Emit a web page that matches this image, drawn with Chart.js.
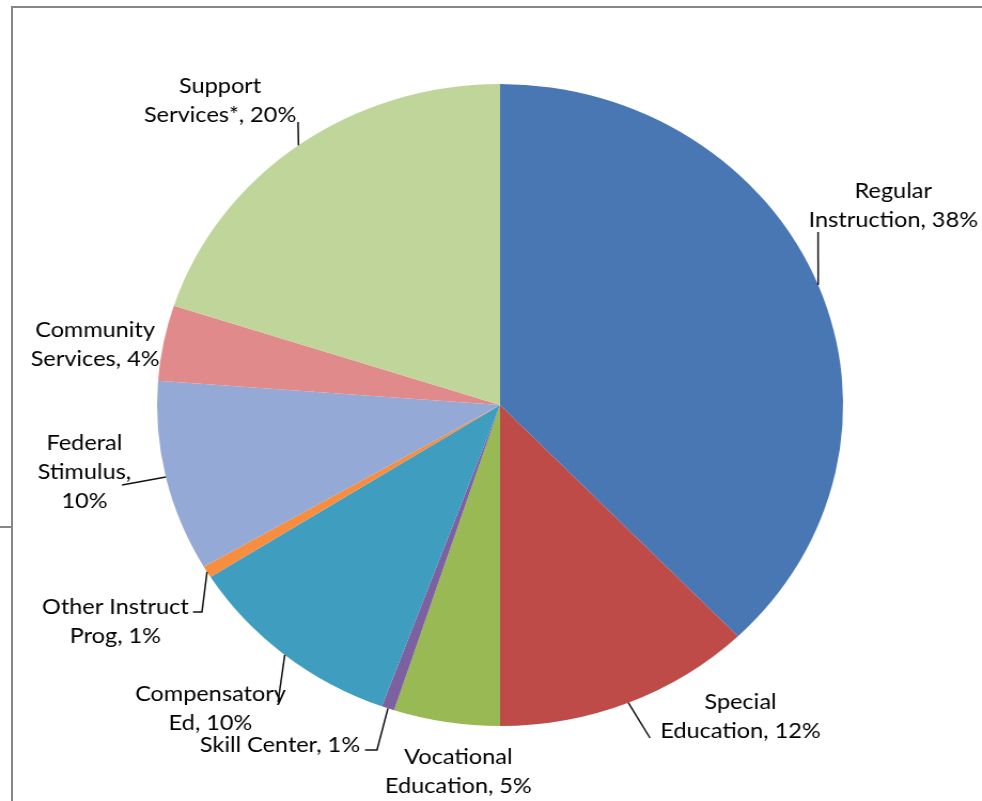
<!DOCTYPE html>
<html>
<head>
<meta charset="utf-8">
<script src="https://cdn.jsdelivr.net/npm/chart.js@4.4.1/dist/chart.umd.min.js"></script>
<style>
  body { margin: 0; background: #fff; }
  #page { position: relative; width: 982px; height: 801px; overflow: hidden; }
  #frame { position: absolute; left: 11px; top: 6px; width: 980px; height: 800px;
           border-top: 2px solid #868686; border-left: 2px solid #868686; }
  #tick { position: absolute; left: 0; top: 526px; width: 12px; height: 0;
          border-top: 2px solid #868686; }
  /* the source picture is stretched sideways, so the pie is drawn narrow and widened */
  #wrap { position: absolute; left: 0; top: 0; width: 919px; height: 801px;
          transform: scaleX(1.0685); transform-origin: 0 0; }
</style>
</head>
<body>
<div id="page">
  <div id="frame"></div>
  <div id="tick"></div>
  <div id="wrap"><canvas id="budget-pie" width="919" height="801"></canvas></div>
</div>
<script>
const categories = ['Regular Instruction', 'Special Education', 'Vocational Education',
  'Skill Center', 'Compensatory Ed', 'Other Instruct Prog', 'Federal Stimulus',
  'Community Services', 'Support Services*'];
// slice sizes (the labels show them rounded)
const shares = [37.8, 12.2, 5.0, 0.6, 10.4, 0.6, 9.6, 3.8, 20.0];
const sliceColors = ['#4877B3', '#BE4B48', '#98B954', '#7D60A0', '#3F9DC0',
  '#F68D3F', '#95A9D6', '#E08A8C', '#BFD59A'];

// label text as it is broken over lines in the picture
const labelLines = [
  ['Regular', 'Instruction, 38%'],
  ['Special', 'Education, 12%'],
  ['Vocational', 'Education, 5%'],
  ['Skill Center, 1%'],
  ['Compensatory', 'Ed, 10%'],
  ['Other Instruct', 'Prog, 1%'],
  ['Federal', 'Stimulus,', '10%'],
  ['Community', 'Services, 4%'],
  ['Support', 'Services*, 20%']
];

// where each label sits, and where its leader line starts (it ends on the slice edge)
const labelSpots = [
  { x: 836, y: 191, leader: [[765.6, 232]] },
  { x: 693, y: 702, leader: [[608.3, 738]] },
  { x: 429, y: 757 },
  { x: 262, y: 745, leader: [[341.6, 750], [352.8, 750]] },
  { x: 197, y: 694, leader: [[260.2, 702]] },
  { x: 108, y: 607, leader: [[180.6, 612], [189, 612]] },
  { x: 79, y: 443, leader: [[114.2, 485]] },
  { x: 89, y: 330 },
  { x: 206, y: 86, leader: [[278.9, 122]] }
];

const sliceLabels = {
  id: 'sliceLabels',
  afterDatasetsDraw(chart) {
    const ctx = chart.ctx;
    const arcs = chart.getDatasetMeta(0).data;
    ctx.save();
    ctx.font = '22px Lato';
    ctx.fillStyle = '#000';
    ctx.strokeStyle = '#111';
    ctx.lineWidth = 1.5;
    ctx.textAlign = 'center';
    ctx.textBaseline = 'middle';
    arcs.forEach((arc, i) => {
      const spot = labelSpots[i];
      labelLines[i].forEach((line, j) => {
        ctx.fillText(line, spot.x, spot.y + j * 29);
      });
      if (spot.leader) {
        const mid = (arc.startAngle + arc.endAngle) / 2;
        ctx.beginPath();
        ctx.moveTo(spot.leader[0][0], spot.leader[0][1]);
        spot.leader.slice(1).forEach((p) => ctx.lineTo(p[0], p[1]));
        ctx.lineTo(arc.x + Math.cos(mid) * arc.outerRadius, arc.y + Math.sin(mid) * arc.outerRadius);
        ctx.stroke();
      }
    });
    ctx.restore();
  }
};

const ctx = document.getElementById('budget-pie').getContext('2d');
const chart = new Chart(ctx, {
  type: 'pie',
  data: {
    labels: categories,
    datasets: [{
      data: shares,
      backgroundColor: sliceColors,
      borderWidth: 0
    }]
  },
  options: {
    responsive: false,
    animation: false,
    layout: { padding: { top: 84, bottom: 75, left: 147, right: 130 } },
    plugins: {
      legend: { display: false },
      tooltip: { enabled: false }
    }
  },
  plugins: [sliceLabels]
});
</script>
</body>
</html>
